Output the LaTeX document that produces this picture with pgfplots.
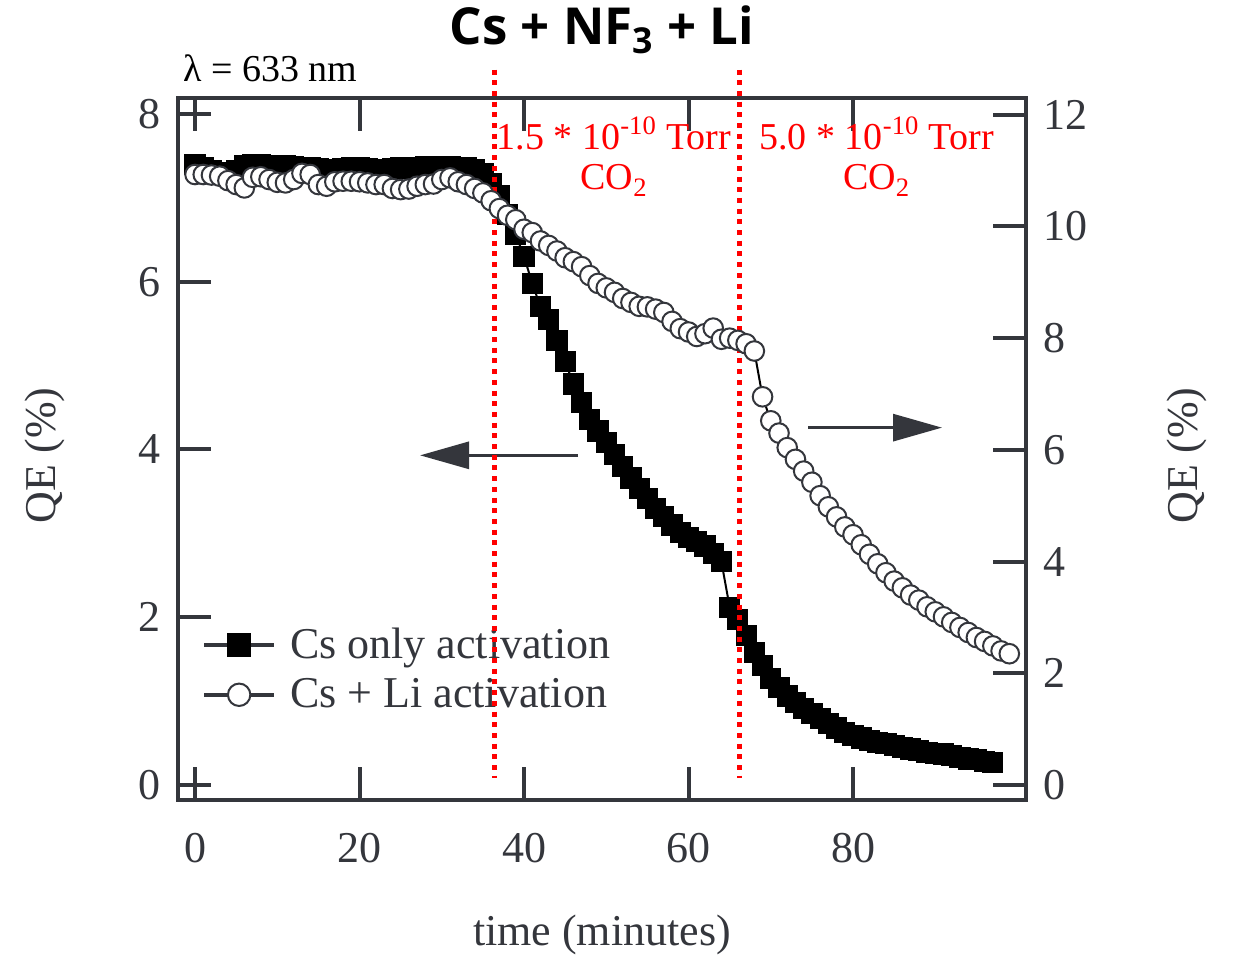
\documentclass[border=0pt]{standalone}
\usepackage{fontspec}
\setmainfont{Liberation Serif}
\newfontfamily\titlefont{Open Sans}
\usepackage{pgfplots}
\pgfplotsset{compat=1.18}
\usetikzlibrary{arrows.meta}
\definecolor{axgray}{RGB}{52,54,60}
\newcommand{\bigtxt}{\fontsize{22bp}{26bp}\selectfont}

\pgfplotstableread{
t q
0 7.40
1 7.36
2 7.33
3 7.30
4 7.30
5 7.33
6 7.38
7 7.40
8 7.40
9 7.39
10 7.38
11 7.38
12 7.37
13 7.36
14 7.36
15 7.35
16 7.34
17 7.34
18 7.35
19 7.36
20 7.36
21 7.35
22 7.34
23 7.34
24 7.35
25 7.36
26 7.35
27 7.36
28 7.37
29 7.37
30 7.37
31 7.37
32 7.36
33 7.36
34 7.34
35 7.29
36 7.17
37 7.03
38 6.80
39 6.56
40 6.30
41 5.98
42 5.70
43 5.55
44 5.30
45 5.05
46 4.78
47 4.56
48 4.36
49 4.22
50 4.08
51 3.94
52 3.80
53 3.66
54 3.53
55 3.42
56 3.30
57 3.20
58 3.10
59 3.01
60 2.95
61 2.90
62 2.85
63 2.76
64 2.66
65 2.12
66 1.97
67 1.78
68 1.58
69 1.42
70 1.27
71 1.16
72 1.06
73 0.98
74 0.91
75 0.85
76 0.79
77 0.73
78 0.68
79 0.63
80 0.59
81 0.56
82 0.53
83 0.51
84 0.49
85 0.47
86 0.45
87 0.43
88 0.41
89 0.39
90 0.38
91 0.37
92 0.35
93 0.33
94 0.31
95 0.30
96 0.28
97 0.27
}\csonly

\pgfplotstableread{
t q
0 10.93
1 10.93
2 10.92
3 10.90
4 10.82
5 10.75
6 10.69
7 10.88
8 10.89
9 10.84
10 10.79
11 10.78
12 10.84
13 10.95
14 10.93
15 10.75
16 10.72
17 10.80
18 10.81
19 10.81
20 10.80
21 10.78
22 10.75
23 10.75
24 10.68
25 10.66
26 10.67
27 10.72
28 10.75
29 10.76
30 10.84
31 10.87
32 10.80
33 10.75
34 10.68
35 10.60
36 10.46
37 10.32
38 10.20
39 10.12
40 9.95
41 9.89
42 9.74
43 9.66
44 9.56
45 9.44
46 9.37
47 9.28
48 9.12
49 8.98
50 8.90
51 8.82
52 8.71
53 8.64
54 8.57
55 8.56
56 8.52
57 8.46
58 8.30
59 8.17
60 8.11
61 8.03
62 8.08
63 8.18
64 7.98
65 8.00
66 7.96
67 7.90
68 7.77
69 6.95
70 6.52
71 6.30
72 6.04
73 5.83
74 5.62
75 5.42
76 5.18
77 4.98
78 4.80
79 4.62
80 4.48
81 4.30
82 4.13
83 3.96
84 3.80
85 3.65
86 3.53
87 3.40
88 3.31
89 3.19
90 3.10
91 3.01
92 2.91
93 2.82
94 2.73
95 2.64
96 2.57
97 2.49
98 2.40
99 2.35
}\csli

\begin{document}
\begin{tikzpicture}
\path[use as bounding box] (0,0) rectangle (617.5bp,481.5bp);
\pgfplotsset{
  common/.style={
    at={(89bp,81.5bp)}, anchor=south west,
    scale only axis, width=424bp, height=351bp,
    xmin=-2.07, xmax=101.03,
    tick align=inside,
    major tick length=16.5bp,
    axis line style={draw=axgray, line width=2bp},
    every tick/.style={draw=axgray, line width=2bp},
    ticklabel style={font=\bigtxt, text=axgray},
    /pgf/number format/assume math mode=true,
    clip=false,
  }
}
\begin{axis}[common,
  ymin=-0.179, ymax=8.19,
  xtick={0,20,40,60,80}, ytick={0,2,4,6,8},
  xtick pos=both, ytick pos=left,
  xticklabel style={yshift=-13bp},
  yticklabel style={xshift=-5bp},
  xlabel={time (minutes)},
  ylabel={QE (\%)},
  every axis x label/.style={at={(axis description cs:0.5,-0.192)}, anchor=center, font=\bigtxt, text=axgray},
  every axis y label/.style={at={(axis description cs:-0.157,0.491)}, anchor=center, rotate=90, font=\bigtxt, text=axgray},
  legend style={at={(axis description cs:0.028,0.251)}, anchor=north west, draw=none, fill=none,
    font=\bigtxt, text=axgray, inner sep=0pt, row sep=4.5bp, nodes={inner sep=2bp}},
  legend cell align=left,
  legend image code/.code={\draw[mark repeat=2,mark phase=2,#1] plot coordinates {(0bp,0bp) (17.5bp,0bp) (35bp,0bp)};},
]
\addplot[black, line width=1bp, mark=square*, mark size=4.8bp, mark options={fill=black, draw=black}, forget plot] table {\csonly};
\addlegendimage{axgray, line width=2bp, mark=square*, mark size=5.6bp, mark options={fill=black, draw=black, line width=0.5bp}}
\addlegendentry{\hspace{5bp}Cs only activation}
\addlegendimage{axgray, line width=2bp, mark=*, mark size=5.6bp, mark options={fill=white, draw=axgray, line width=1bp}}
\addlegendentry{\hspace{5bp}Cs + Li activation}
\draw[axgray, line width=1.5bp, -{Triangle[length=24.5bp, width=13.5bp]}] (axis cs:46.57,3.93) -- (axis cs:27.36,3.93);
\draw[axgray, line width=1.5bp, -{Triangle[length=24.5bp, width=13.5bp]}] (axis cs:74.53,4.26) -- (axis cs:90.82,4.26);
\node[font=\titlefont\bfseries\fontsize{25.5bp}{30bp}\selectfont, anchor=base] at (axis description cs:0.5,1.076) {Cs + NF\textsubscript{3} + Li};
\node[font=\fontsize{19bp}{23bp}\selectfont, anchor=base west, inner sep=0pt] at (axis description cs:0.006,1.024) {λ = 633 nm};
\node[font=\fontsize{19bp}{23bp}\selectfont, text=red, anchor=base, inner sep=0pt] at (axis cs:50.94,7.571) {1.5 * 10\textsuperscript{-10} Torr};
\node[font=\fontsize{19bp}{23bp}\selectfont, text=red, anchor=base, inner sep=0pt] at (axis cs:50.94,7.094) {CO\textsubscript{2}};
\node[font=\fontsize{19bp}{23bp}\selectfont, text=red, anchor=base, inner sep=0pt] at (axis cs:82.86,7.571) {5.0 * 10\textsuperscript{-10} Torr};
\node[font=\fontsize{19bp}{23bp}\selectfont, text=red, anchor=base, inner sep=0pt] at (axis cs:82.86,7.094) {CO\textsubscript{2}};
\end{axis}
\begin{axis}[common,
  ymin=-0.269, ymax=12.30,
  hide x axis, axis y line*=right,
  ytick={0,2,4,6,8,10,12},
  yticklabel style={xshift=5bp},
  ylabel={QE (\%)},
  every axis y label/.style={at={(axis description cs:1.19,0.491)}, anchor=center, rotate=90, font=\bigtxt, text=axgray},
]
\addplot[black, line width=1bp, mark=*, mark size=4.9bp, mark options={fill=white, draw=axgray, line width=1bp}] table {\csli};
\draw[red, line width=2.5bp, dash pattern=on 2.5bp off 2.85bp] (axis cs:36.47,12.81) -- (axis cs:36.47,0.125);
\draw[red, line width=2.5bp, dash pattern=on 2.5bp off 2.85bp] (axis cs:66.2,12.81) -- (axis cs:66.2,0.125);
\end{axis}
\end{tikzpicture}
\end{document}
